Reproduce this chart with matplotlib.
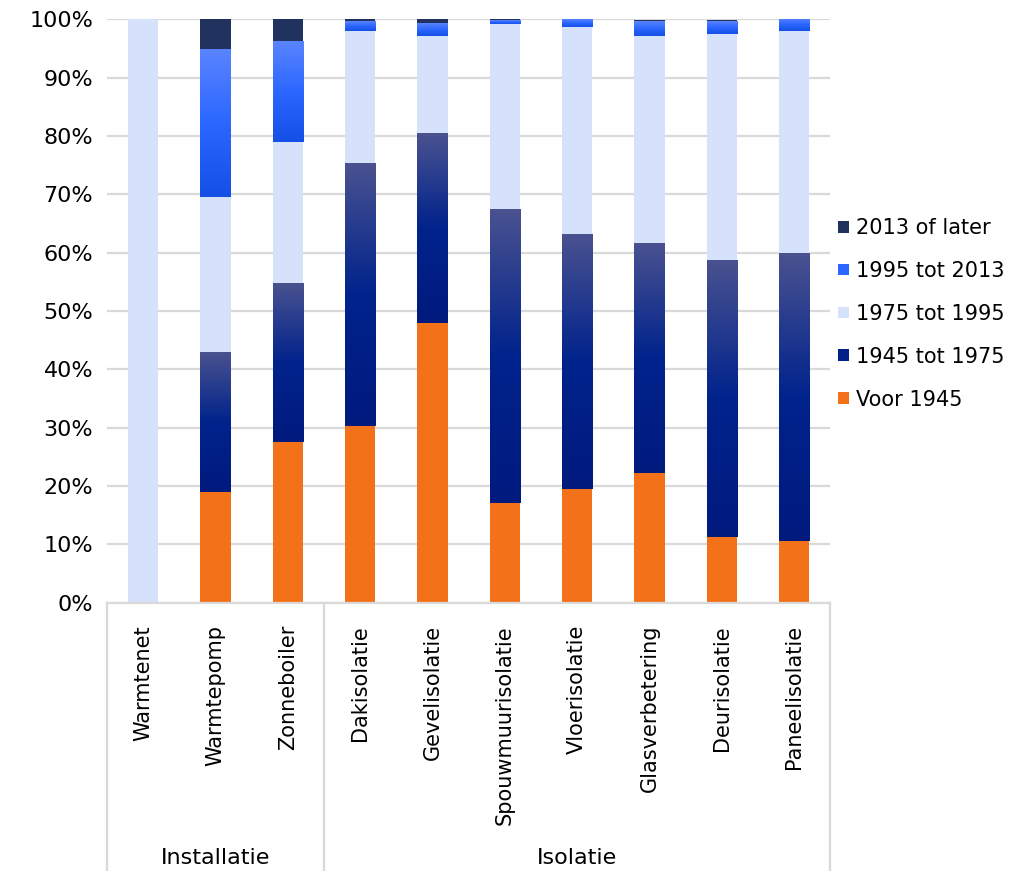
import numpy as np
import matplotlib
matplotlib.use("Agg")
import matplotlib.pyplot as plt
from matplotlib.colors import LinearSegmentedColormap
from matplotlib.patches import Patch

# data (percent of households per build period)
categories = ["Warmtenet", "Warmtepomp", "Zonneboiler", "Dakisolatie", "Gevelisolatie",
              "Spouwmuurisolatie", "Vloerisolatie", "Glasverbetering", "Deurisolatie", "Paneelisolatie"]
groups = ["Installatie", "Isolatie"]
group_sizes = [3, 7]

voor_1945 = [0, 19.0, 27.6, 30.2, 48.0, 17.1, 19.5, 22.3, 11.3, 10.6]
p1945_1975 = [0, 23.9, 27.1, 44.9, 32.4, 50.3, 43.6, 39.4, 47.3, 49.2]
p1975_1995 = [100, 26.7, 24.2, 22.8, 16.8, 31.8, 35.5, 35.5, 38.8, 38.1]
p1995_2013 = [0, 25.2, 17.3, 1.7, 2.2, 0.6, 1.2, 2.4, 2.2, 2.1]
p2013_later = [0, 5.2, 3.8, 0.4, 0.6, 0.2, 0.2, 0.2, 0.2, 0.0]

series = [
    ("Voor 1945", voor_1945, "#F37119", None),
    ("1945 tot 1975", p1945_1975, "#00208A", ["#4A5290", "#00238C", "#001A7E"]),
    ("1975 tot 1995", p1975_1995, "#D6E1FC", None),
    ("1995 tot 2013", p1995_2013, "#2B67FF", ["#5A84FF", "#2B67FF", "#1450E6"]),
    ("2013 of later", p2013_later, "#21325E", None),
]

fig = plt.figure(figsize=(10.29, 8.71), dpi=100)
ax = fig.add_axes([0.104, 0.308, 0.703, 0.670])

x = np.arange(len(categories))
bottom = np.zeros(len(categories))
handles = []
for label, vals, color, grad in series:
    vals = np.array(vals, dtype=float)
    bars = ax.bar(x, vals, 0.42, bottom=bottom, color=color, zorder=2, linewidth=0)
    if grad is not None:
        cmap = LinearSegmentedColormap.from_list(label, grad[::-1])
        g = np.linspace(0, 1, 256).reshape(-1, 1)
        for b in bars:
            if b.get_height() <= 0:
                continue
            x0, y0 = b.get_x(), b.get_y()
            ax.imshow(g, cmap=cmap, origin="lower", aspect="auto", zorder=3,
                      extent=[x0, x0 + b.get_width(), y0, y0 + b.get_height()],
                      interpolation="bilinear")
    bottom += vals
    handles.append(Patch(facecolor=color, label=label))

ax.set_xlim(-0.5, len(categories) - 0.5)
ax.set_ylim(0, 100)
ax.set_yticks(np.arange(0, 101, 10))
ax.set_yticklabels([f"{v}%" for v in range(0, 101, 10)], fontsize=16)
ax.yaxis.grid(True, color="#D9D9D9", linewidth=1.6, zorder=0)
ax.set_axisbelow(True)
ax.tick_params(axis="y", length=0, pad=10)
ax.tick_params(axis="x", length=0, pad=16)
ax.set_xticks(x)
ax.set_xticklabels(categories, rotation=90, fontsize=15, va="top")
for s in ["left", "right", "top"]:
    ax.spines[s].set_visible(False)
ax.spines["bottom"].set_color("#D9D9D9")
ax.spines["bottom"].set_linewidth(1.6)

# group separators and group labels below the axis
trans = ax.get_xaxis_transform()
depth = -0.46
seps = [-0.5]
for n in group_sizes:
    seps.append(seps[-1] + n)
for s in seps:
    ax.plot([s, s], [0, depth], transform=trans, color="#D9D9D9", linewidth=1.6, clip_on=False)
for i, name in enumerate(groups):
    ax.text((seps[i] + seps[i + 1]) / 2, -0.437, name, transform=trans,
            ha="center", va="center", fontsize=16)

leg = ax.legend(handles=handles[::-1], loc="center left", bbox_to_anchor=(1.011, 0.495),
                frameon=False, fontsize=15, handlelength=0.5, handleheight=0.5,
                handletextpad=0.35, labelspacing=1.1, borderaxespad=0, borderpad=0)

fig.savefig("out.png", dpi=100)
